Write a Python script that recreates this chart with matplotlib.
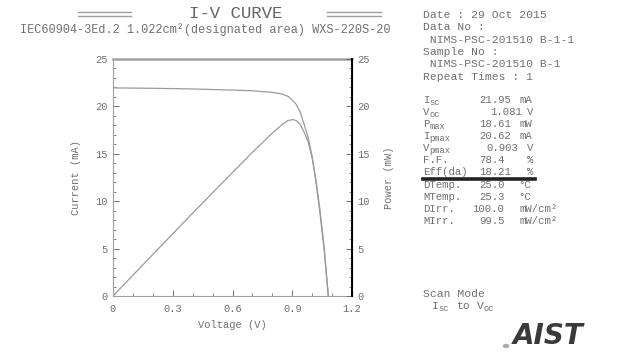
import matplotlib
matplotlib.use('Agg')
import matplotlib.pyplot as plt
from matplotlib.ticker import MultipleLocator

plt.rcParams['font.family'] = ['Liberation Mono', 'DejaVu Sans Mono']

voltage = [0, 0.1, 0.2, 0.3, 0.4, 0.5, 0.6, 0.7, 0.8, 0.85, 0.88, 0.903,
           0.92, 0.94, 0.96, 0.98, 1.0, 1.02, 1.04, 1.06, 1.081]
current = [21.95, 21.93, 21.91, 21.88, 21.84, 21.78, 21.72, 21.65, 21.48,
           21.3, 21.05, 20.62, 20.2, 19.4, 18.1, 16.7, 14.7, 11.9, 8.6, 4.9, 0.0]
power = [0, 2.19, 4.38, 6.56, 8.74, 10.89, 13.03, 15.16, 17.18, 18.11,
         18.52, 18.61, 18.5, 18.1, 17.25, 16.25, 14.6, 12.1, 8.9, 5.2, 0.0]

xticks = [0, 0.3, 0.6, 0.9, 1.2]
xticklabels = ['0', '0.3', '0.6', '0.9', '1.2']
yticks = [0, 5, 10, 15, 20, 25]

labels = ['I', 'V', 'P', 'I', 'V', 'F.F.', 'Eff(da)', 'DTemp.', 'MTemp.',
          'DIrr.', 'MIrr.']
label_subs = ['sc', 'oc', 'max', 'pmax', 'pmax', '', '', '', '', '', '']
values = ['21.95', '1.081', '18.61', '20.62', '0.903', '78.4', '18.21',
          '25.0', '25.3', '100.0', '99.5']
units = ['mA', 'V', 'mW', 'mA', 'V', '%', '%', '°C', '°C', 'mW/cm²', 'mW/cm²']

header = ['Date : 29 Oct 2015', 'Data No :', ' NIMS-PSC-201510 B-1-1',
          'Sample No :', ' NIMS-PSC-201510 B-1', 'Repeat Times : 1']

W, H = 640, 360
grey = '#707070'
curve = '#9a9a9a'
tab_fs = 7.7

# positions (pixels) des colonnes du tableau
val_x = [479, 490, 479, 479, 486, 479, 479, 479, 479, 472, 479]
unit_x = [520, 527, 520, 520, 527, 527, 527, 518, 518, 520, 520]

fig = plt.figure(figsize=(6.4, 3.6), dpi=100)
ax = fig.add_axes([113/W, 1-296/H, (352-113)/W, (296-59)/H])
ax2 = ax.twinx()

ax.plot(voltage, current, color=curve, lw=0.9)
ax2.plot(voltage, power, color=curve, lw=0.9)

for a in (ax, ax2):
    a.set_xlim(0, 1.2)
    a.set_ylim(0, 25)
    a.set_yticks(yticks)
    a.yaxis.set_minor_locator(MultipleLocator(1))
    a.tick_params(which='both', direction='in', colors=grey, labelsize=7.5)
    a.tick_params(which='major', length=4, width=0.7)
    a.tick_params(which='minor', length=2.5, width=0.6)
ax.set_xticks(xticks)
ax.set_xticklabels(xticklabels)
ax.xaxis.set_minor_locator(MultipleLocator(0.1))
ax.tick_params(axis='x', pad=6)
ax.tick_params(axis='y', pad=4)
ax2.tick_params(axis='y', pad=4)

ax.spines['left'].set_color('#a0a0a0')
ax.spines['bottom'].set_color('#a0a0a0')
ax.spines['top'].set_color('#a0a0a0')
ax.spines['top'].set_linewidth(1.8)
ax2.spines['right'].set_color('black')
ax2.spines['right'].set_linewidth(1.4)
for s in ('left', 'bottom', 'top'):
    ax2.spines[s].set_visible(False)

ax.set_xlabel('Voltage (V)', color=grey, fontsize=7.5, labelpad=4)
ax.set_ylabel('Current (mA)', color=grey, fontsize=7.5, labelpad=10)
ax2.set_ylabel('Power (mW)', color=grey, fontsize=7.5, labelpad=10, rotation=90)


def txt(x, y, s, **kw):
    kw.setdefault('color', grey)
    kw.setdefault('fontsize', 8.2)
    kw.setdefault('va', 'center')
    fig.text(x / W, 1 - y / H, s, **kw)


def hline(x0, x1, y, **kw):
    fig.add_artist(plt.Line2D([x0 / W, x1 / W], [1 - y / H, 1 - y / H], **kw))


def sub_txt(x, y, main, sub, fs=tab_fs):
    # lettre + indice plus petit, decale vers le bas
    txt(x, y, main, fontsize=fs)
    if sub:
        txt(x + 6.5, y + 2.5, sub, fontsize=6.3)


# Titre
txt(236, 14, 'I-V CURVE', fontsize=12.5, ha='center', color='#666666')
for x0, x1 in ((78, 131), (327, 381)):
    for y in (12, 15.5):
        hline(x0, x1, y, color='#a0a0a0', lw=1.0)
txt(20, 30, 'IEC60904-3Ed.2 1.022cm²(designated area) WXS-220S-20', fontsize=8.6)

# Informations
for i, s in enumerate(header):
    txt(423, 15 + i * 12.3, s)

for i, (lab, sub, val, u) in enumerate(zip(labels, label_subs, values, units)):
    y = 100 + i * 11.95 + (1.5 if i > 6 else 0)
    sub_txt(423, y, lab, sub)
    txt(val_x[i], y, val, fontsize=tab_fs)
    txt(unit_x[i], y, u, fontsize=tab_fs)
hline(423, 535, 178.5, color='#222222', lw=2.6)

txt(423, 294, 'Scan Mode')
sub_txt(432, 306, 'I', 'sc', fs=8.2)
txt(457, 306, 'to')
sub_txt(477, 306, 'V', 'oc', fs=8.2)

# Logo
txt(548, 336, 'AIST', fontsize=20, fontweight='bold', fontstyle='italic',
    family='DejaVu Sans', color='#3a3a3a', ha='center')
fig.add_artist(plt.Circle((506 / W, 1 - 346 / H), 0.004, color='#aaaaaa',
                          transform=fig.transFigure))

fig.savefig('out.png', dpi=100)
